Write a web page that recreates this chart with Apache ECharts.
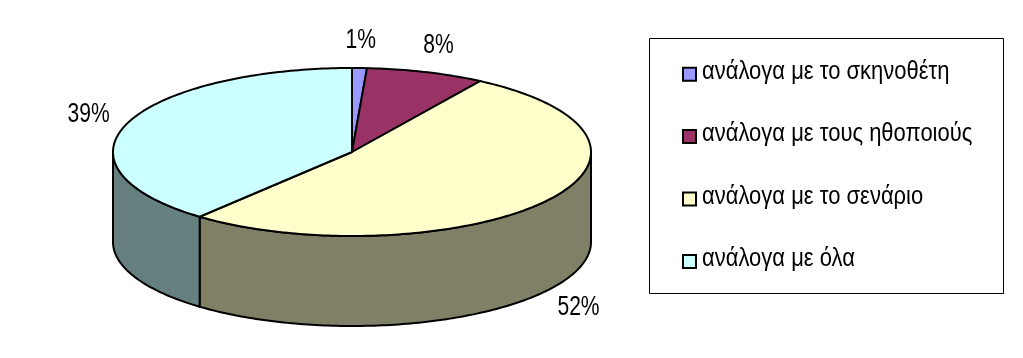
<!DOCTYPE html>
<html>
<head>
<meta charset="utf-8">
<script src="https://cdn.jsdelivr.net/npm/echarts@6/dist/echarts.min.js"></script>
<style>html,body{margin:0;padding:0;background:#fff}#c{width:1023px;height:358px}</style>
</head>
<body>
<div id="c"></div>
<script>
// ---- data ----
const categories = ['ανάλογα με το σκηνοθέτη', 'ανάλογα με τους ηθοποιούς', 'ανάλογα με το σενάριο', 'ανάλογα με όλα'];
const values = [1, 8, 52, 39];

// ---- styles ----
const topColors = ['#9999FF', '#993366', '#FFFFCC', '#CCFFFF'];
const sideColors = ['#4D4D80', '#4D1A33', '#808066', '#668080'];
const FONT = '"Liberation Sans", Arial, sans-serif';

const total = values.reduce((a, b) => a + b, 0);
const starts = [];
values.reduce((acc, v, i) => { starts[i] = acc; return acc + v; }, 0);

// pie geometry (layout)
const G = { cx: 352, cy: 152, rx: 239, ry: 84, depth: 90 };
// legend layout
const L = { x: 649.5, y: 38.5, w: 354, h: 255, markerX: 683, textX: 702, row0: 74.2, rowGap: 62.4 };

function pt(deg, d) {
  const r = deg * Math.PI / 180;
  return [G.cx + G.rx * Math.sin(r), G.cy - G.ry * Math.cos(r) + d];
}
function arc(a0, a1, d) {
  const pts = [];
  const n = Math.max(2, Math.ceil(Math.abs(a1 - a0)));
  for (let k = 0; k <= n; k++) pts.push(pt(a0 + (a1 - a0) * k / n, d));
  return pts;
}

const chart = echarts.init(document.getElementById('c'));
const seriesData = values.map((v, i) => ({ name: categories[i], value: v }));

chart.setOption({
  animation: false,
  graphic: [{
    type: 'rect', shape: { x: L.x, y: L.y, width: L.w, height: L.h },
    style: { fill: 'none', stroke: '#000', lineWidth: 1 }, silent: true
  }],
  series: [
    {
      // slice sides
      type: 'custom', coordinateSystem: 'none', z: 1, silent: true,
      data: seriesData,
      renderItem: function (params, api) {
        const i = params.dataIndex;
        const a0 = starts[i] / total * 360;
        const a1 = (starts[i] + api.value(0)) / total * 360;
        const lo = Math.max(a0, 90), hi = Math.min(a1, 270);
        if (hi <= lo) return null;
        const pts = arc(lo, hi, 0).concat(arc(hi, lo, G.depth));
        return {
          type: 'polygon', shape: { points: pts },
          style: { fill: sideColors[i], stroke: '#000', lineWidth: 2, lineJoin: 'round' }
        };
      }
    },
    {
      // slice tops + labels + legend entries
      type: 'custom', coordinateSystem: 'none', z: 2, silent: true,
      data: seriesData,
      renderItem: function (params, api) {
        const i = params.dataIndex;
        const v = api.value(0);
        const a0 = starts[i] / total * 360;
        const a1 = (starts[i] + v) / total * 360;
        const pts = [[G.cx, G.cy]].concat(arc(a0, a1, 0));
        const mid = (a0 + a1) / 2 * Math.PI / 180;
        const lx = G.cx + (G.rx + 41) * Math.sin(mid);
        const c = Math.cos(mid);
        const ly = G.cy - (G.ry + 28) * c + (c < 0 ? G.depth : 0);
        const ry = L.row0 + i * L.rowGap;
        return {
          type: 'group',
          children: [
            { type: 'polygon', shape: { points: pts },
              style: { fill: topColors[i], stroke: '#000', lineWidth: 2, lineJoin: 'round' } },
            { type: 'text', x: lx, y: ly, scaleX: 0.78,
              style: { text: Math.round(v / total * 100) + '%', fontFamily: FONT, fontSize: 27,
                       fill: '#000', align: 'center', verticalAlign: 'middle' } },
            { type: 'rect', shape: { x: L.markerX, y: ry - 6.5, width: 13, height: 13 },
              style: { fill: topColors[i], stroke: '#000', lineWidth: 2 } },
            { type: 'text', x: L.textX, y: ry - 2, scaleX: 0.88,
              style: { text: categories[i], fontFamily: FONT, fontSize: 25,
                       fill: '#000', align: 'left', verticalAlign: 'middle' } }
          ]
        };
      }
    }
  ]
});
</script>
</body>
</html>
